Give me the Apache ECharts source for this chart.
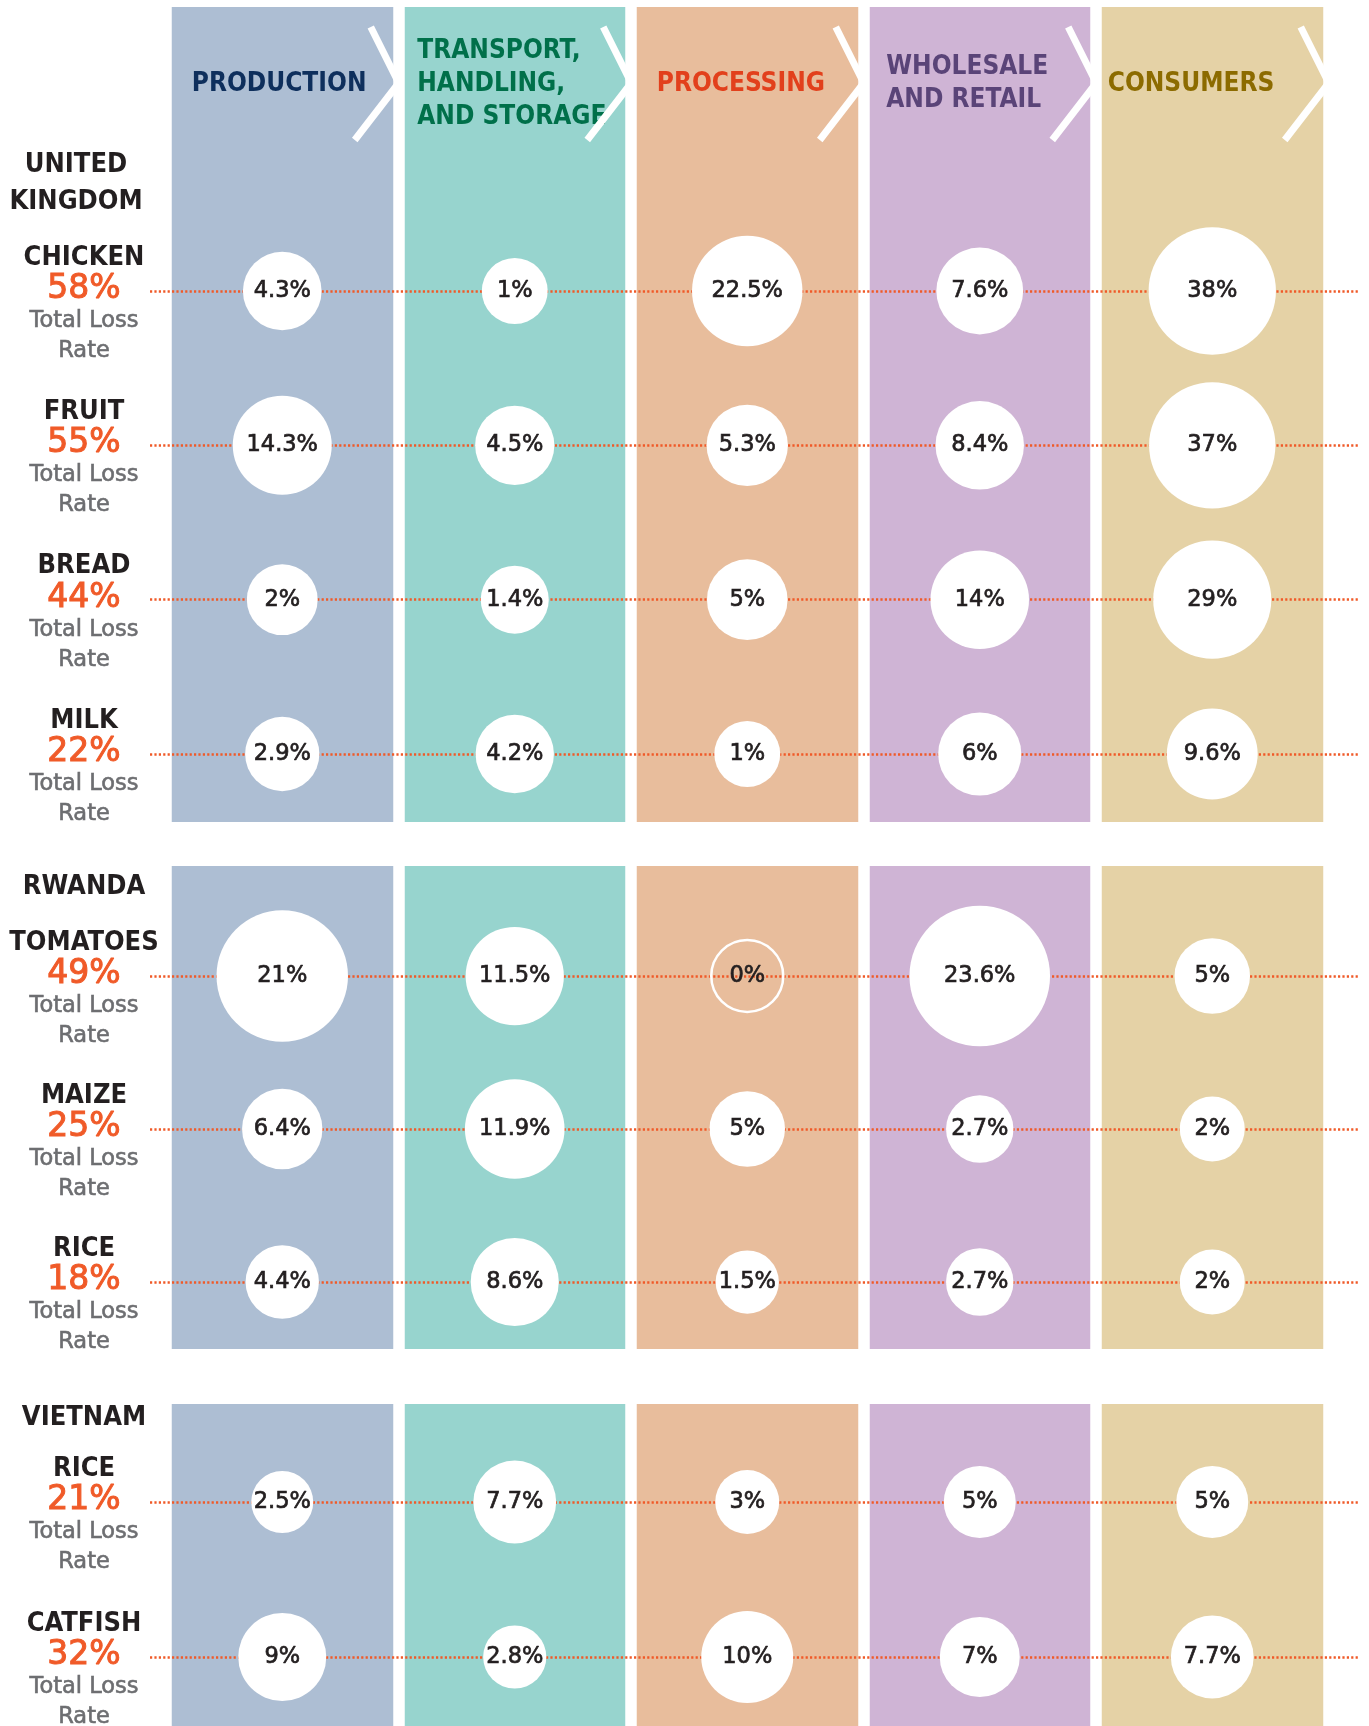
<!DOCTYPE html>
<html>
<head>
<meta charset="utf-8">
<title>Food loss along the supply chain</title>
<script src="https://cdn.jsdelivr.net/npm/echarts@6/dist/echarts.min.js"></script>
<style>
  html, body { margin: 0; padding: 0; background: #fff; }
  #main { width: 1369px; height: 1726px; }
</style>
</head>
<body>
<div id="main"></div>
<script>
// ---- data ----
var stages = ['PRODUCTION', 'TRANSPORT,\nHANDLING,\nAND STORAGE', 'PROCESSING', 'WHOLESALE\nAND RETAIL', 'CONSUMERS'];
var countries = ['UNITED\nKINGDOM', 'RWANDA', 'VIETNAM'];

var ukItems = ['CHICKEN', 'FRUIT', 'BREAD', 'MILK'];
var ukTotals = [58, 55, 44, 22];
var ukLoss = [
  [4.3, 1, 22.5, 7.6, 38],
  [14.3, 4.5, 5.3, 8.4, 37],
  [2, 1.4, 5, 14, 29],
  [2.9, 4.2, 1, 6, 9.6]
];

var rwItems = ['TOMATOES', 'MAIZE', 'RICE'];
var rwTotals = [49, 25, 18];
var rwLoss = [
  [21, 11.5, 0, 23.6, 5],
  [6.4, 11.9, 5, 2.7, 2],
  [4.4, 8.6, 1.5, 2.7, 2]
];

var vnItems = ['RICE', 'CATFISH'];
var vnTotals = [21, 32];
var vnLoss = [
  [2.5, 7.7, 3, 5, 5],
  [9, 2.8, 10, 7, 7.7]
];

// ---- layout / style ----
var colColors = ['#adbed3', '#97d4ce', '#e8bd9c', '#cfb4d5', '#e5d2a6'];
var headColors = ['#0e2f5c', '#00704a', '#e2401c', '#5a4478', '#8c6b00'];
var headPad = [20, 13, 20, 17, 6];
var condFont = "'DejaVu Sans Condensed', 'Liberation Sans Narrow', sans-serif";
var textFont = "'DejaVu Sans', sans-serif";
var orange = '#f05a28';
var ink = '#231f20';

var bandLeft = 166, colStep = 232.5, colWidth = 221, gap = colStep - colWidth;
var lineLeft = 150, lineRight = 1358;
var xMin = -0.5 - (bandLeft - lineLeft) / colStep;
var xMax = stages.length - 0.5 + (lineRight - (bandLeft + colStep * stages.length)) / colStep;

var panels = [
  { items: ukItems, totals: ukTotals, loss: ukLoss, top: 7, bottom: 822, rowTop: 291, rowBottom: 754,
    cx: 76, cy: 183, size: function (v) { return 54 + 11.9 * Math.sqrt(v); } },
  { items: rwItems, totals: rwTotals, loss: rwLoss, top: 866, bottom: 1349, rowTop: 976, rowBottom: 1282,
    cx: 84, cy: 887, size: function (v) { return 58 + 3.5 * v; } },
  { items: vnItems, totals: vnTotals, loss: vnLoss, top: 1404, bottom: 1726, rowTop: 1502, rowBottom: 1657,
    cx: 84, cy: 1418, size: function (v) { return 52 + 4 * v; } }
];

var grid = [], xAxis = [], yAxis = [], series = [], graphic = [];

panels.forEach(function (p, pi) {
  var bg = pi * 2, rows = pi * 2 + 1;
  grid.push({ left: bandLeft, top: p.top, width: colStep * stages.length, height: p.bottom - p.top,
              outerBoundsMode: 'none' });
  grid.push({ left: lineLeft, top: p.rowTop, width: lineRight - lineLeft, height: p.rowBottom - p.rowTop,
              outerBoundsMode: 'none' });

  // coloured stage columns
  xAxis.push({
    type: 'category', gridIndex: bg, data: stages, boundaryGap: true, z: 0,
    axisLine: { show: false }, axisTick: { show: false }, axisLabel: { show: false },
    splitArea: { show: true, interval: 0, areaStyle: { color: colColors } },
    splitLine: { show: true, interval: 0, lineStyle: { color: '#fff', width: gap } }
  });
  yAxis.push({ type: 'value', gridIndex: bg, show: false, min: 0, max: 1 });

  // rows with dotted guides and item labels
  xAxis.push({ type: 'value', gridIndex: rows, min: xMin, max: xMax, show: false });
  yAxis.push({
    type: 'category', gridIndex: rows, data: p.items, inverse: true, boundaryGap: false, z: 3,
    axisLine: { show: false }, axisTick: { show: false },
    splitLine: { show: true, interval: 0, lineStyle: { color: orange, width: 2.6, type: [2.2, 2.2] } },
    axisLabel: {
      interval: 0, margin: lineLeft - 84, align: 'center', padding: [26, 0, 0, 0],
      formatter: function (name, idx) {
        return '{n|' + name + '}\n{p|' + p.totals[idx] + '%}\n{t|Total Loss}\n{t|Rate}';
      },
      rich: {
        n: { fontFamily: condFont, fontWeight: 'bold', fontSize: 27, color: ink, lineHeight: 31, align: 'center' },
        p: { fontFamily: textFont, fontSize: 33, color: orange, lineHeight: 33, align: 'center',
             textBorderColor: orange, textBorderWidth: 1 },
        t: { fontFamily: textFont, fontSize: 22.5, color: '#6d6e71', lineHeight: 30, align: 'center',
             textBorderColor: '#6d6e71', textBorderWidth: 0.6 }
      }
    }
  });

  var data = [];
  p.loss.forEach(function (row, r) {
    row.forEach(function (v, s) {
      var item = { value: [s, r, v] };
      if (v === 0) {
        item.itemStyle = { color: 'rgba(0,0,0,0)', borderColor: '#fff', borderWidth: 2.5 };
      }
      data.push(item);
    });
  });
  series.push({
    type: 'scatter', xAxisIndex: rows, yAxisIndex: rows, z: 5,
    symbol: 'circle',
    symbolSize: function (val) { return val[2] === 0 ? 72 : p.size(val[2]); },
    itemStyle: { color: '#fff', opacity: 1 },
    emphasis: { disabled: true },
    label: {
      show: true, position: 'inside', color: ink, fontFamily: textFont, fontSize: 22.5,
      textBorderColor: ink, textBorderWidth: 0.7,
      formatter: function (prm) { return prm.value[2] + '%'; }
    },
    data: data
  });

  graphic.push({
    type: 'text', x: p.cx, y: p.cy, z: 10,
    style: {
      text: countries[pi], fill: ink, font: 'bold 27px ' + condFont,
      textAlign: 'center', textVerticalAlign: 'middle', lineHeight: 37
    }
  });
});

// stage headers and chevrons
stages.forEach(function (s, i) {
  var left = bandLeft + gap / 2 + colStep * i;
  var right = left + colWidth;
  graphic.push({
    type: 'text', x: left + headPad[i], y: 84, z: 10,
    style: {
      text: s, fill: headColors[i], font: 'bold 26px ' + condFont,
      textAlign: 'left', textVerticalAlign: 'middle', lineHeight: 33
    }
  });
  graphic.push({
    type: 'polyline', z: 10,
    shape: { points: [[right - 22, 27], [right + 6, 83], [right - 38, 140]] },
    style: { stroke: '#fff', lineWidth: 7, fill: null }
  });
});

var chart = echarts.init(document.getElementById('main'));
chart.setOption({
  animation: false,
  backgroundColor: '#fff',
  grid: grid,
  xAxis: xAxis,
  yAxis: yAxis,
  series: series,
  graphic: graphic
});
</script>
</body>
</html>
